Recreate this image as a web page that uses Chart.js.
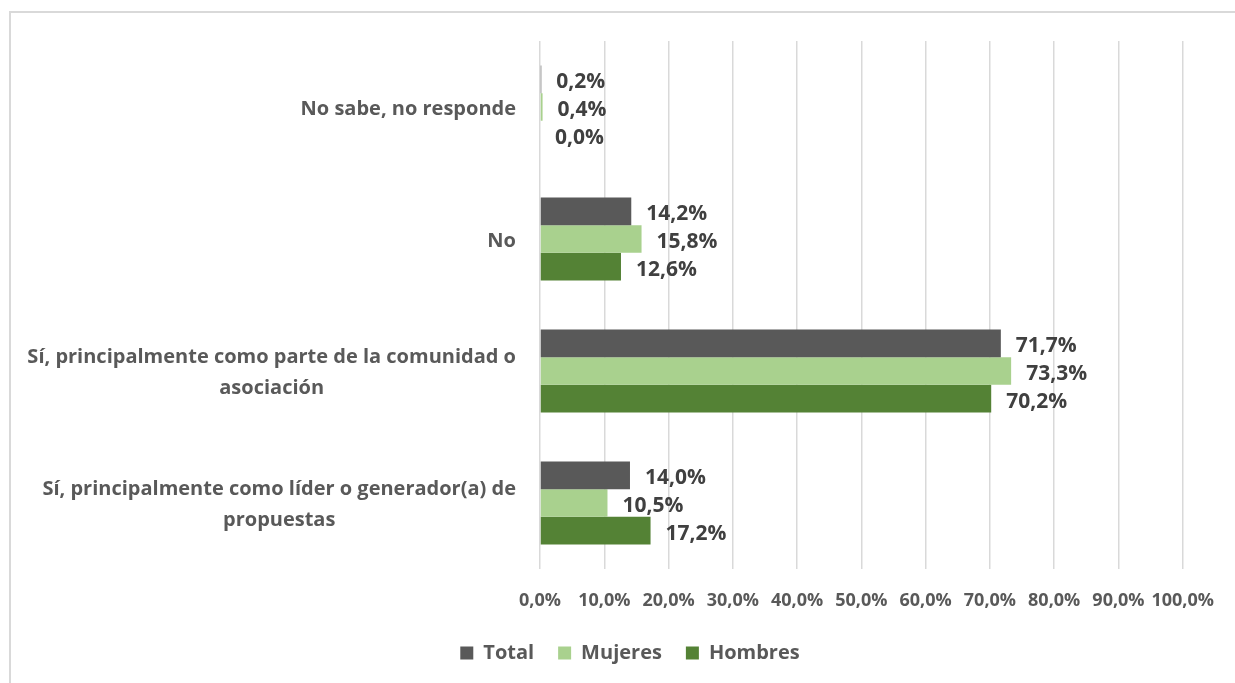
<!DOCTYPE html>
<html><head><meta charset="utf-8">
<script src="https://cdn.jsdelivr.net/npm/chart.js@4.4.1/dist/chart.umd.min.js"></script>
<style>
html,body{margin:0;padding:0;background:#fff;overflow:hidden;width:1235px;height:683px;}
#frame{position:absolute;left:9px;top:11px;width:1300px;height:700px;border-left:2px solid #d9d9d9;border-top:2px solid #d9d9d9;box-sizing:border-box;}
#c{position:absolute;left:0;top:0;}
</style></head><body>
<div id="frame"></div>
<canvas id="c" width="1235" height="683"></canvas>
<script>
const categories = [
  ["No sabe, no responde"],
  ["No"],
  ["Sí, principalmente como parte de la comunidad o", "asociación"],
  ["Sí, principalmente como líder o generador(a) de", "propuestas"]
];
const seriesNames = ["Total", "Mujeres", "Hombres"];
const total   = [0.2, 14.2, 71.7, 14.0];
const mujeres = [0.4, 15.8, 73.3, 10.5];
const hombres = [0.0, 12.6, 70.2, 17.2];
const xTicks = [0, 10, 20, 30, 40, 50, 60, 70, 80, 90, 100];

const FONT = "'Open Sans', sans-serif";
const fmt = v => v.toFixed(1).replace('.', ',') + '%';

const dataLabels = {
  id: 'dataLabels',
  afterDatasetsDraw(chart) {
    const ctx = chart.ctx;
    ctx.save();
    ctx.font = "bold 21px " + FONT;
    ctx.fillStyle = '#404040';
    ctx.textAlign = 'left';
    ctx.textBaseline = 'middle';
    chart.data.datasets.forEach((ds, di) => {
      const meta = chart.getDatasetMeta(di);
      meta.data.forEach((bar, i) => {
        ctx.fillText(fmt(ds.data[i]), bar.x + 15, bar.y + 3);
      });
    });
    ctx.restore();
  }
};

const catLabels = {
  id: 'catLabels',
  afterDraw(chart) {
    const ctx = chart.ctx;
    const y = chart.scales.y;
    const right = 516;
    const lh = 31;
    ctx.save();
    ctx.font = "bold 20px " + FONT;
    ctx.fillStyle = '#595959';
    ctx.textAlign = 'center';
    ctx.textBaseline = 'middle';
    categories.forEach((lines, i) => {
      const cy = y.getPixelForValue(i) + 2;
      const maxW = Math.max(...lines.map(l => ctx.measureText(l).width));
      const cx = right - maxW / 2;
      const y0 = cy - (lines.length - 1) * lh / 2;
      lines.forEach((l, k) => ctx.fillText(l, cx, y0 + k * lh));
    });
    ctx.restore();
  }
};

new Chart(document.getElementById('c'), {
  type: 'bar',
  data: {
    labels: categories.map(c => c.join(' ')),
    datasets: [
      { label: seriesNames[0], data: total,   backgroundColor: '#595959' },
      { label: seriesNames[1], data: mujeres, backgroundColor: '#A9D18E' },
      { label: seriesNames[2], data: hombres, backgroundColor: '#548235' }
    ]
  },
  options: {
    indexAxis: 'y',
    responsive: false,
    animation: false,
    devicePixelRatio: 1,
    categoryPercentage: 0.63,
    barPercentage: 1.0,
    layout: { padding: { left: 75, right: 50, top: 41, bottom: 10 } },
    scales: {
      x: {
        min: 0, max: 100,
        afterBuildTicks(scale) { scale.ticks = xTicks.map(v => ({ value: v })); },
        afterFit(scale) { scale.height = 50; },
        grid: { color: '#d9d9d9', lineWidth: 1.5, drawTicks: false },
        border: { display: false },
        ticks: {
          callback: v => fmt(v),
          color: '#595959',
          font: { family: FONT, size: 18, weight: 'bold' },
          padding: 21, maxRotation: 0, autoSkip: false
        }
      },
      y: {
        afterFit(scale) { scale.width = 540 - 75; },
        grid: { display: false },
        border: { display: false },
        ticks: { display: false }
      }
    },
    plugins: {
      legend: {
        position: 'bottom',
        labels: {
          boxWidth: 13, boxHeight: 13,
          padding: 24,
          color: '#595959',
          font: { family: FONT, size: 20, weight: 'bold' }
        }
      },
      tooltip: { enabled: false }
    }
  },
  plugins: [dataLabels, catLabels]
});
</script>
</body></html>
